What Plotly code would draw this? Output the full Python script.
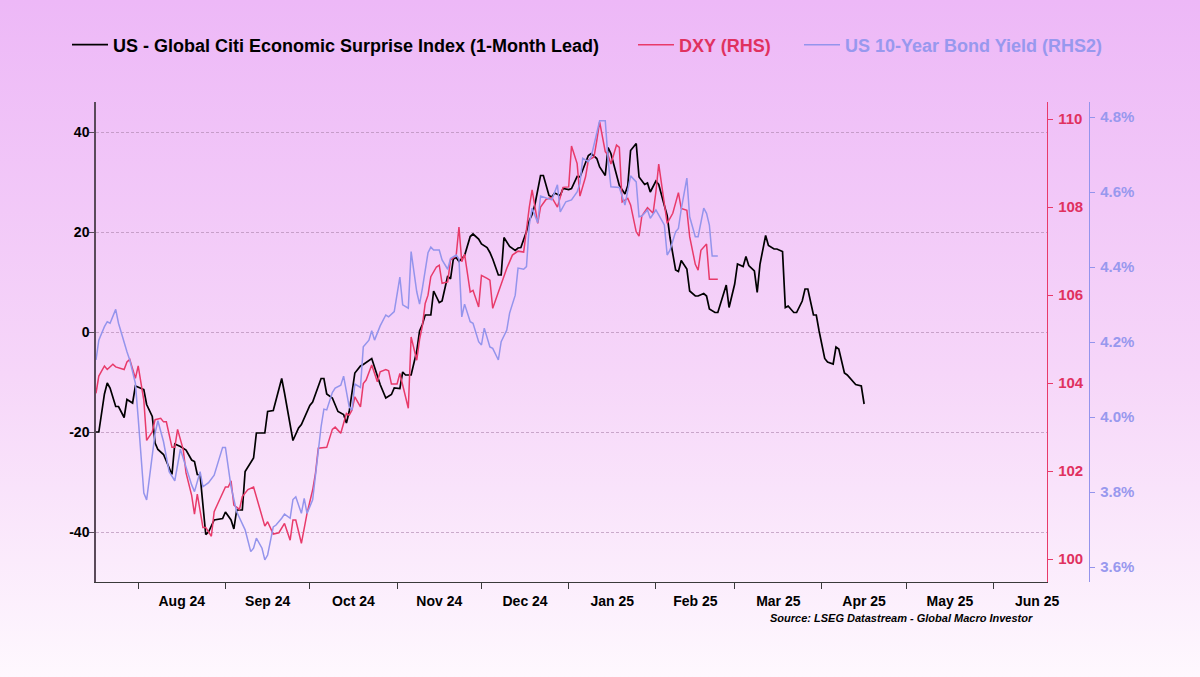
import base64
import plotly.graph_objects as go

# ---------------- data ----------------
cesi_dates = [
    "2024-07-17", "2024-07-18", "2024-07-20", "2024-07-21", "2024-07-22", "2024-07-24", "2024-07-25",
    "2024-07-27", "2024-07-28", "2024-07-30", "2024-07-31", "2024-08-03", "2024-08-04", "2024-08-06",
    "2024-08-07", "2024-08-08", "2024-08-10", "2024-08-13", "2024-08-14", "2024-08-16", "2024-08-18",
    "2024-08-20", "2024-08-21", "2024-08-22", "2024-08-23", "2024-08-25", "2024-08-26", "2024-08-28",
    "2024-08-31", "2024-09-01", "2024-09-03", "2024-09-04", "2024-09-05", "2024-09-07", "2024-09-08",
    "2024-09-11", "2024-09-12", "2024-09-15", "2024-09-16", "2024-09-18", "2024-09-21", "2024-09-22",
    "2024-09-25", "2024-09-27", "2024-09-28", "2024-10-01", "2024-10-02", "2024-10-05", "2024-10-06",
    "2024-10-07", "2024-10-09", "2024-10-11", "2024-10-13", "2024-10-14", "2024-10-15", "2024-10-17",
    "2024-10-19", "2024-10-20", "2024-10-23", "2024-10-25", "2024-10-26", "2024-10-28", "2024-10-30",
    "2024-10-31", "2024-11-02", "2024-11-03", "2024-11-04", "2024-11-06", "2024-11-08", "2024-11-09",
    "2024-11-10", "2024-11-11", "2024-11-13", "2024-11-14", "2024-11-16", "2024-11-17", "2024-11-19",
    "2024-11-20", "2024-11-21", "2024-11-22", "2024-11-23", "2024-11-25", "2024-11-27", "2024-11-28",
    "2024-11-30", "2024-12-01", "2024-12-03", "2024-12-04", "2024-12-05", "2024-12-07", "2024-12-08",
    "2024-12-09", "2024-12-11", "2024-12-13", "2024-12-14", "2024-12-15", "2024-12-17", "2024-12-18",
    "2024-12-19", "2024-12-20", "2024-12-22", "2024-12-23", "2024-12-25", "2024-12-26", "2024-12-27",
    "2024-12-29", "2024-12-30", "2025-01-01", "2025-01-02", "2025-01-04", "2025-01-05", "2025-01-08",
    "2025-01-09", "2025-01-11", "2025-01-12", "2025-01-14", "2025-01-15", "2025-01-16", "2025-01-18",
    "2025-01-19", "2025-01-21", "2025-01-22", "2025-01-23", "2025-01-25", "2025-01-26", "2025-01-28",
    "2025-01-29", "2025-01-30", "2025-02-01", "2025-02-02", "2025-02-04", "2025-02-05", "2025-02-06",
    "2025-02-08", "2025-02-09", "2025-02-10", "2025-02-12", "2025-02-13", "2025-02-15", "2025-02-16",
    "2025-02-18", "2025-02-19", "2025-02-20", "2025-02-22", "2025-02-23", "2025-02-26", "2025-02-27",
    "2025-03-01", "2025-03-02", "2025-03-04", "2025-03-05", "2025-03-06", "2025-03-08", "2025-03-09",
    "2025-03-10", "2025-03-12", "2025-03-13", "2025-03-15", "2025-03-16", "2025-03-18", "2025-03-19",
    "2025-03-20", "2025-03-22", "2025-03-23", "2025-03-25", "2025-03-26", "2025-03-27", "2025-03-29",
    "2025-03-30", "2025-03-31", "2025-04-02", "2025-04-03", "2025-04-05", "2025-04-06", "2025-04-07",
    "2025-04-09", "2025-04-10", "2025-04-12", "2025-04-13", "2025-04-15", "2025-04-16",
]
cesi_values = [
    -20, -20, -12.4, -10.2, -11.2, -14.9, -14.9,
    -17.1, -13.5, -14.2, -10.8, -11.5, -14.5, -16.9,
    -22.2, -23.5, -24.5, -28.5, -22.4, -22.9, -23.6,
    -25.6, -25.9, -28.5, -28.6, -40.5, -40, -37.6,
    -37.3, -36, -37.6, -39.4, -35.6, -35.6, -27.9,
    -25.2, -20.2, -20.2, -15.9, -15.7, -9.3, -12.2,
    -21.7, -19.2, -18.5, -14.7, -14, -9.3, -9.3,
    -12.4, -13.2, -15.9, -16.5, -18.2, -15.9, -8.2,
    -6.8, -6.5, -5.3, -8.6, -10.5, -13.2, -12.5,
    -11.2, -11.3, -8.0, -8.6, -8.6, -3.8, 0.2,
    1.5, 3.4, 3.4, 8.2, 5.9, 6.2, 11.2,
    10.6, 14.6, 14.9, 14.1, 15.3, 19.1, 19.6,
    18.6, 17.6, 16.9, 15.9, 14.6, 11.4, 11.4,
    18.9, 17.1, 16.3, 16.8, 16.9, 20.1, 22.3,
    23.5, 25.5, 31.3, 31.3, 27.3, 27, 27.8,
    27.3, 28.7, 28.5, 28.7, 31.1, 31.0, 35.3,
    35.7, 34.7, 33, 31.3, 36.9, 35.7, 31.3,
    29.3, 27.6, 29.3, 36.3, 37.7, 31, 29.5,
    29.8, 28, 30.2, 29.5, 25.3, 23.3, 18.9,
    12.4, 12.1, 14.3, 12.6, 8.2, 7.2, 7.2,
    7.7, 7.2, 4.6, 3.9, 3.9, 9.4, 4.9,
    9.6, 13.6, 13.1, 15.1, 13.3, 12.2, 7.9,
    13.6, 19.3, 17.3, 16.6, 16.6, 16.1, 4.9,
    5.2, 3.9, 3.9, 6.2, 8.6, 8.6, 3.4,
    3.4, 0.2, -5.3, -6.0, -6.4, -3.0, -3.4,
    -8.2, -8.6, -9.8, -10.5, -10.8, -14.4,
]

dxy_dates = [
    "2024-07-17", "2024-07-18", "2024-07-20", "2024-07-21", "2024-07-23", "2024-07-24", "2024-07-27",
    "2024-07-28", "2024-07-29", "2024-07-31", "2024-08-01", "2024-08-03", "2024-08-04", "2024-08-06",
    "2024-08-07", "2024-08-09", "2024-08-10", "2024-08-11", "2024-08-13", "2024-08-14", "2024-08-15",
    "2024-08-17", "2024-08-18", "2024-08-20", "2024-08-21", "2024-08-22", "2024-08-24", "2024-08-25",
    "2024-08-27", "2024-08-28", "2024-08-30", "2024-09-01", "2024-09-02", "2024-09-03", "2024-09-04",
    "2024-09-06", "2024-09-07", "2024-09-09", "2024-09-11", "2024-09-13", "2024-09-15", "2024-09-16",
    "2024-09-18", "2024-09-20", "2024-09-22", "2024-09-24", "2024-09-25", "2024-09-26", "2024-09-28",
    "2024-09-30", "2024-10-02", "2024-10-03", "2024-10-04", "2024-10-07", "2024-10-09", "2024-10-10",
    "2024-10-12", "2024-10-14", "2024-10-15", "2024-10-16", "2024-10-17", "2024-10-19", "2024-10-20",
    "2024-10-21", "2024-10-23", "2024-10-25", "2024-10-26", "2024-10-28", "2024-10-29", "2024-10-30",
    "2024-11-01", "2024-11-02", "2024-11-05", "2024-11-06", "2024-11-08", "2024-11-09", "2024-11-10",
    "2024-11-11", "2024-11-12", "2024-11-13", "2024-11-15", "2024-11-16", "2024-11-17", "2024-11-19",
    "2024-11-20", "2024-11-22", "2024-11-23", "2024-11-24", "2024-11-25", "2024-11-27", "2024-11-28",
    "2024-11-30", "2024-12-01", "2024-12-03", "2024-12-04", "2024-12-05", "2024-12-07", "2024-12-08",
    "2024-12-10", "2024-12-12", "2024-12-14", "2024-12-16", "2024-12-17", "2024-12-18", "2024-12-19",
    "2024-12-21", "2024-12-22", "2024-12-24", "2024-12-26", "2024-12-28", "2024-12-30", "2025-01-01",
    "2025-01-02", "2025-01-04", "2025-01-05", "2025-01-07", "2025-01-08", "2025-01-10", "2025-01-11",
    "2025-01-12", "2025-01-14", "2025-01-15", "2025-01-16", "2025-01-18", "2025-01-19", "2025-01-20",
    "2025-01-22", "2025-01-23", "2025-01-25", "2025-01-26", "2025-01-27", "2025-01-29", "2025-01-31",
    "2025-02-01", "2025-02-02", "2025-02-04", "2025-02-05", "2025-02-07", "2025-02-09", "2025-02-10",
    "2025-02-12", "2025-02-13", "2025-02-15", "2025-02-16", "2025-02-17", "2025-02-19", "2025-02-20",
    "2025-02-22", "2025-02-23",
]
dxy_values = [
    103.77, 104.16, 104.39, 104.31, 104.43, 104.37, 104.31,
    104.48, 104.54, 104.11, 104.39, 103.61, 102.7, 102.89,
    103.17, 103.2, 103.12, 103.12, 102.54, 102.54, 102.95,
    102.49, 101.96, 101.45, 101.02, 101.48, 100.72, 100.72,
    100.52, 101.08, 101.36, 101.64, 101.64, 101.78, 101.23,
    101.13, 101.42, 101.58, 101.64, 101.19, 100.75, 100.85,
    100.57, 100.6, 100.81, 100.43, 100.89, 100.89, 100.36,
    101.04, 101.57, 101.95, 102.52, 102.54, 102.95, 103.0,
    102.86, 103.31, 103.27, 103.39, 103.69, 103.46, 103.99,
    104.07, 104.41, 104.03, 104.26, 104.31, 104.28, 103.98,
    103.98, 104.22, 103.43, 105.05, 104.52, 104.99, 105.3,
    105.81, 106.0, 106.42, 106.64, 106.68, 106.27, 106.3,
    106.8, 106.89, 107.55, 106.76, 106.93, 106.07, 106.11,
    105.73, 106.45, 106.38, 106.34, 105.7, 106.07, 106.23,
    106.61, 106.91, 107.0, 106.98, 107.55, 108.0, 108.39,
    107.63, 108.0, 108.18, 108.22, 108.0, 108.45, 108.46,
    109.39, 108.99, 108.25, 108.69, 109.07, 109.14, 109.52,
    109.94, 109.26, 109.18, 108.98, 109.41, 109.36, 108.12,
    108.2, 108.05, 107.44, 107.34, 107.8, 107.99, 107.86,
    108.35, 108.98, 108.0, 107.63, 107.86, 108.33, 107.97,
    107.93, 107.33, 106.7, 106.57, 107.02, 107.16, 106.36,
    106.36, 106.36,
]

ust10_dates = [
    "2024-07-17", "2024-07-18", "2024-07-20", "2024-07-21", "2024-07-22", "2024-07-24", "2024-07-25",
    "2024-07-27", "2024-07-28", "2024-07-29", "2024-07-31", "2024-08-01", "2024-08-03", "2024-08-04",
    "2024-08-06", "2024-08-07", "2024-08-08", "2024-08-10", "2024-08-11", "2024-08-12", "2024-08-14",
    "2024-08-16", "2024-08-17", "2024-08-19", "2024-08-20", "2024-08-21", "2024-08-23", "2024-08-24",
    "2024-08-26", "2024-08-28", "2024-08-29", "2024-08-31", "2024-09-01", "2024-09-03", "2024-09-05",
    "2024-09-07", "2024-09-08", "2024-09-10", "2024-09-11", "2024-09-12", "2024-09-14", "2024-09-15",
    "2024-09-16", "2024-09-18", "2024-09-19", "2024-09-21", "2024-09-22", "2024-09-24", "2024-09-25",
    "2024-09-26", "2024-09-28", "2024-09-29", "2024-09-30", "2024-10-02", "2024-10-03", "2024-10-05",
    "2024-10-06", "2024-10-07", "2024-10-09", "2024-10-10", "2024-10-12", "2024-10-13", "2024-10-15",
    "2024-10-16", "2024-10-17", "2024-10-19", "2024-10-20", "2024-10-22", "2024-10-23", "2024-10-24",
    "2024-10-26", "2024-10-28", "2024-10-29", "2024-10-31", "2024-11-02", "2024-11-03", "2024-11-05",
    "2024-11-06", "2024-11-08", "2024-11-09", "2024-11-10", "2024-11-12", "2024-11-13", "2024-11-14",
    "2024-11-16", "2024-11-17", "2024-11-19", "2024-11-20", "2024-11-22", "2024-11-23", "2024-11-24",
    "2024-11-25", "2024-11-27", "2024-11-28", "2024-11-30", "2024-12-01", "2024-12-02", "2024-12-04",
    "2024-12-05", "2024-12-07", "2024-12-08", "2024-12-10", "2024-12-11", "2024-12-13", "2024-12-14",
    "2024-12-16", "2024-12-17", "2024-12-18", "2024-12-19", "2024-12-21", "2024-12-22", "2024-12-24",
    "2024-12-26", "2024-12-28", "2024-12-29", "2024-12-31", "2025-01-02", "2025-01-04", "2025-01-05",
    "2025-01-06", "2025-01-08", "2025-01-09", "2025-01-11", "2025-01-12", "2025-01-14", "2025-01-15",
    "2025-01-16", "2025-01-18", "2025-01-19", "2025-01-21", "2025-01-22", "2025-01-23", "2025-01-25",
    "2025-01-26", "2025-01-27", "2025-01-29", "2025-01-30", "2025-02-01", "2025-02-02", "2025-02-04",
    "2025-02-05", "2025-02-06", "2025-02-08", "2025-02-09", "2025-02-10", "2025-02-12", "2025-02-13",
    "2025-02-15", "2025-02-16", "2025-02-18", "2025-02-19", "2025-02-20", "2025-02-21", "2025-02-23",
]
ust10_values = [
    4.152, 4.205, 4.241, 4.254, 4.25, 4.287, 4.25,
    4.197, 4.174, 4.152, 4.09, 3.997, 3.797, 3.779,
    3.901, 3.957, 3.99, 3.934, 3.894, 3.854, 3.83,
    3.914, 3.89, 3.841, 3.819, 3.801, 3.854, 3.814,
    3.825, 3.845, 3.872, 3.919, 3.919, 3.814, 3.747,
    3.716, 3.699, 3.641, 3.65, 3.677, 3.65, 3.619,
    3.632, 3.707, 3.712, 3.73, 3.741, 3.73, 3.78,
    3.787, 3.743, 3.783, 3.743, 3.779, 3.85, 3.974,
    4.021, 4.019, 4.065, 4.077, 4.085, 4.109, 4.027,
    4.019, 4.088, 4.079, 4.187, 4.205, 4.23, 4.205,
    4.243, 4.272, 4.267, 4.281, 4.373, 4.299, 4.29,
    4.441, 4.334, 4.301, 4.343, 4.438, 4.453, 4.445,
    4.445, 4.419, 4.394, 4.423, 4.432, 4.421, 4.267,
    4.301, 4.254, 4.25, 4.201, 4.192, 4.237, 4.187,
    4.183, 4.152, 4.201, 4.232, 4.277, 4.325, 4.397,
    4.394, 4.401, 4.512, 4.557, 4.518, 4.589, 4.583,
    4.579, 4.619, 4.547, 4.574, 4.579, 4.6, 4.623,
    4.69, 4.681, 4.694, 4.757, 4.79, 4.79, 4.687,
    4.614, 4.612, 4.612, 4.565, 4.605, 4.643, 4.627,
    4.534, 4.536, 4.552, 4.53, 4.552, 4.539, 4.512,
    4.432, 4.445, 4.494, 4.503, 4.554, 4.637, 4.534,
    4.481, 4.481, 4.557, 4.543, 4.512, 4.429, 4.429,
]

series_names = [
    "US - Global Citi Economic Surprise Index (1-Month Lead)",
    "DXY (RHS)",
    "US 10-Year Bond Yield (RHS2)",
]
left_ticks = [-40, -20, 0, 20, 40]
left_labels = ["-40", "-20", "0", "20", "40"]
dxy_ticks = [100, 102, 104, 106, 108, 110]
ust_ticks = [3.6, 3.8, 4.0, 4.2, 4.4, 4.6, 4.8]
ust_labels = ["3.6%", "3.8%", "4.0%", "4.2%", "4.4%", "4.6%", "4.8%"]
source_text = "Source: LSEG Datastream - Global Macro Investor"

# ---------------- style ----------------
BLACK = "#000000"
RED = "#E83A6A"
BLUE = "#9494EC"
RED_TXT = "#E0315F"
BLUE_TXT = "#9898EE"
FONT = "Liberation Sans Narrow, Liberation Sans, Arial, sans-serif"

W, H = 1200, 677
ML, MR, MT, MB = 96, 100, 102, 95
PW = W - ML - MR
PH = H - MT - MB
x_end = (1047 - ML) / PW
blue_pos = (1089 - ML) / PW

fig = go.Figure()
fig.add_trace(go.Scatter(x=cesi_dates, y=cesi_values, name=series_names[0], mode="lines",
                         line=dict(color=BLACK, width=1.7), yaxis="y", legend="legend"))
fig.add_trace(go.Scatter(x=dxy_dates, y=dxy_values, name=series_names[1], mode="lines",
                         line=dict(color=RED, width=1.5), yaxis="y2", legend="legend2"))
fig.add_trace(go.Scatter(x=ust10_dates, y=ust10_values, name=series_names[2], mode="lines",
                         line=dict(color=BLUE, width=1.5), yaxis="y3", legend="legend3"))

svg = ("<svg xmlns='http://www.w3.org/2000/svg' width='1200' height='677' preserveAspectRatio='none'>"
       "<defs><linearGradient id='g' x1='0' y1='0' x2='0' y2='1'>"
       "<stop offset='0' stop-color='#EDB8F7'/><stop offset='0.55' stop-color='#F6D6F9'/>"
       "<stop offset='1' stop-color='#FEF8FE'/></linearGradient></defs>"
       "<rect x='0' y='0' width='1200' height='677' fill='url(#g)'/></svg>")
bg_src = "data:image/svg+xml;base64," + base64.b64encode(svg.encode()).decode()

leg_y = 1 + (MT - 45) / PH
legend_common = dict(orientation="h", yanchor="middle", y=leg_y, xanchor="left",
                     bgcolor="rgba(0,0,0,0)", borderwidth=0, itemwidth=36,
                     tracegroupgap=0)

fig.update_layout(
    width=W, height=H,
    margin=dict(l=ML, r=MR, t=MT, b=MB, pad=0),
    paper_bgcolor="#F5D2F8",
    plot_bgcolor="rgba(0,0,0,0)",
    font=dict(family=FONT, size=14, color=BLACK),
    showlegend=True,
    images=[dict(source=bg_src, xref="paper", yref="paper",
                 x=-ML / PW, y=1 + MT / PH, sizex=W / PW, sizey=H / PH,
                 xanchor="left", yanchor="top", sizing="stretch", layer="below")],
    legend=dict(**legend_common, x=(67 - ML) / PW,
                font=dict(family=FONT, size=18, color=BLACK, weight="bold")),
    legend2=dict(**legend_common, x=(633 - ML) / PW,
                 font=dict(family=FONT, size=18, color=RED_TXT, weight="bold")),
    legend3=dict(**legend_common, x=(799 - ML) / PW,
                 font=dict(family=FONT, size=18, color=BLUE_TXT, weight="bold")),
    xaxis=dict(
        type="date", domain=[0, x_end],
        range=["2024-07-17", "2025-06-20"],
        dtick="M1", tick0="2024-08-01", ticklabelmode="period", tickformat="%b %y",
        showgrid=False, zeroline=False,
        showline=True, linecolor="#3A3A3A", linewidth=1.2,
        ticks="outside", ticklen=6, tickcolor="#3A3A3A", tickwidth=1.2,
        tickfont=dict(family=FONT, size=14, color=BLACK, weight="bold"),
    ),
    yaxis=dict(
        range=[-50, 46], tickvals=left_ticks, ticktext=left_labels,
        showgrid=True, gridcolor="rgba(170,130,170,0.6)", griddash="3px,2px", gridwidth=1,
        zeroline=False,
        showline=True, linecolor="#5A4A5A", linewidth=1.5,
        ticks="outside", ticklen=5, tickcolor="#5A4A5A",
        tickfont=dict(family=FONT, size=14, color=BLACK, weight="bold"),
        ticklabelstandoff=-3,
    ),
    yaxis2=dict(
        overlaying="y", side="right", anchor="x",
        range=[99.48, 110.39], tickvals=dxy_ticks,
        showgrid=False, zeroline=False,
        showline=True, linecolor=RED, linewidth=1.3,
        ticks="outside", ticklen=5, tickcolor=RED,
        tickfont=dict(family=FONT, size=15, color=RED_TXT, weight="bold"),
        ticklabelstandoff=2,
    ),
    yaxis3=dict(
        overlaying="y", side="right", anchor="free", position=blue_pos,
        range=[3.56, 4.84], tickvals=ust_ticks, ticktext=ust_labels,
        showgrid=False, zeroline=False,
        showline=True, linecolor=BLUE, linewidth=1.3,
        ticks="outside", ticklen=5, tickcolor=BLUE,
        tickfont=dict(family=FONT, size=15, color=BLUE_TXT, weight="bold"),
        ticklabelstandoff=2,
    ),
    annotations=[dict(text=source_text, xref="paper", yref="paper",
                      x=(1035 - ML) / PW, y=-(618 - (MT + PH)) / PH,
                      xanchor="right", yanchor="middle", showarrow=False,
                      font=dict(family=FONT, size=11, color=BLACK, style="italic", weight="bold"))],
)

fig.write_html("out.html")
